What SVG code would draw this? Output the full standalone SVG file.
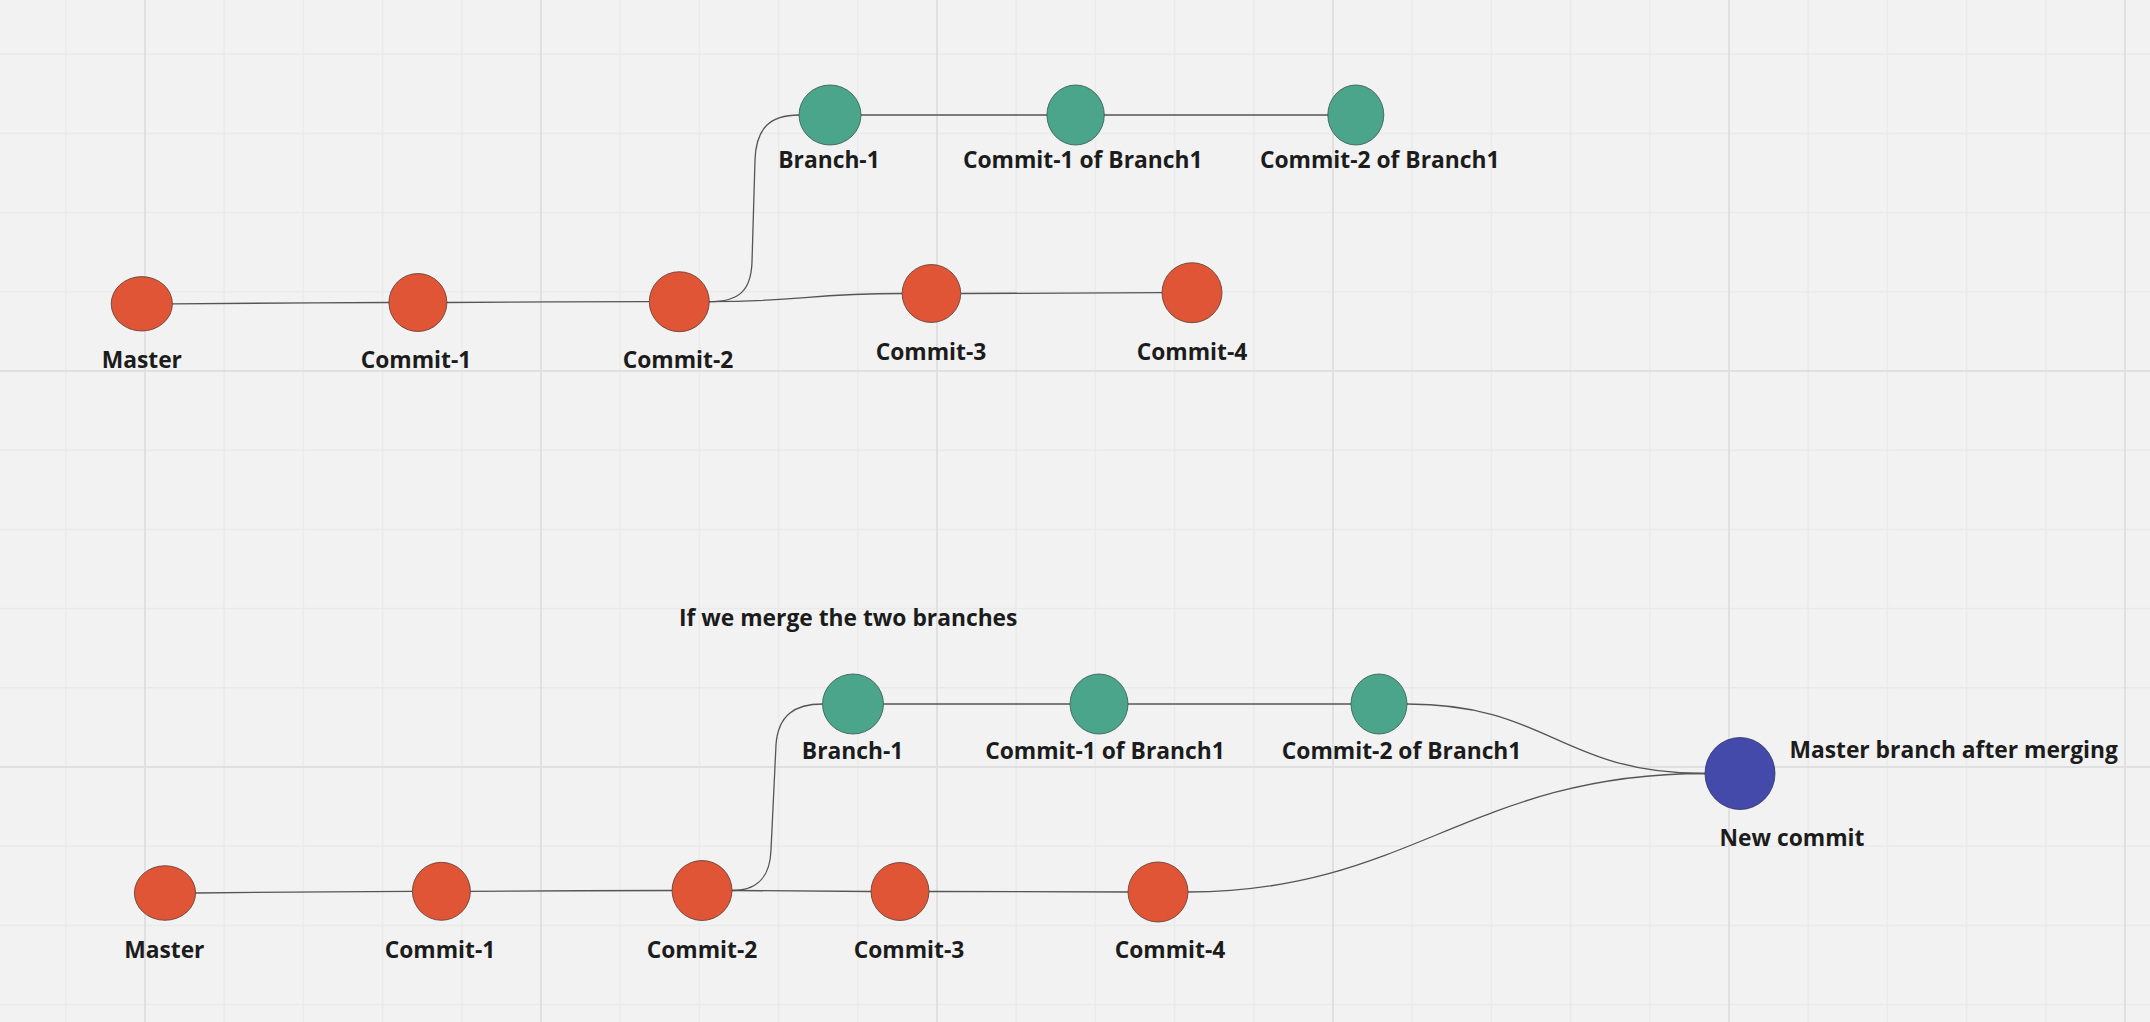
<svg xmlns="http://www.w3.org/2000/svg" width="2150" height="1022" viewBox="0 0 2150 1022">
<defs>
<style>
.minor{stroke:#eaeaea;stroke-width:1.5}
.major{stroke:#e0e0e0;stroke-width:2}
.red{fill:#e05536;stroke:#5a3a32;stroke-width:0.8}
.green{fill:#4ba58a;stroke:#35594d;stroke-width:0.8}
.blue{fill:#434aa9;stroke:#2e3166;stroke-width:0.8}
.lbl{font-family:"Open Sans","Noto Sans","DejaVu Sans",sans-serif;font-weight:700;font-size:22.8px;fill:#1c1c1c;text-anchor:middle}
.lft{text-anchor:start}
.conn path{fill:none;stroke:#555555;stroke-width:1.3}
</style>
</defs>
<rect width="2150" height="1022" fill="#f2f2f2"/>
<g id="grid">
<g class="minor">
<line x1="65.8" y1="0" x2="65.8" y2="1022"/><line x1="224.2" y1="0" x2="224.2" y2="1022"/><line x1="303.4" y1="0" x2="303.4" y2="1022"/><line x1="382.6" y1="0" x2="382.6" y2="1022"/><line x1="461.8" y1="0" x2="461.8" y2="1022"/>
<line x1="620.2" y1="0" x2="620.2" y2="1022"/><line x1="699.4" y1="0" x2="699.4" y2="1022"/><line x1="778.6" y1="0" x2="778.6" y2="1022"/><line x1="857.8" y1="0" x2="857.8" y2="1022"/>
<line x1="1016.2" y1="0" x2="1016.2" y2="1022"/><line x1="1095.4" y1="0" x2="1095.4" y2="1022"/><line x1="1174.6" y1="0" x2="1174.6" y2="1022"/><line x1="1253.8" y1="0" x2="1253.8" y2="1022"/>
<line x1="1412.2" y1="0" x2="1412.2" y2="1022"/><line x1="1491.4" y1="0" x2="1491.4" y2="1022"/><line x1="1570.6" y1="0" x2="1570.6" y2="1022"/><line x1="1649.8" y1="0" x2="1649.8" y2="1022"/>
<line x1="1808.2" y1="0" x2="1808.2" y2="1022"/><line x1="1887.4" y1="0" x2="1887.4" y2="1022"/><line x1="1966.6" y1="0" x2="1966.6" y2="1022"/><line x1="2045.8" y1="0" x2="2045.8" y2="1022"/>
<line x1="0" y1="54.2" x2="2150" y2="54.2"/><line x1="0" y1="133.4" x2="2150" y2="133.4"/><line x1="0" y1="212.6" x2="2150" y2="212.6"/><line x1="0" y1="291.8" x2="2150" y2="291.8"/>
<line x1="0" y1="450.2" x2="2150" y2="450.2"/><line x1="0" y1="529.4" x2="2150" y2="529.4"/><line x1="0" y1="608.6" x2="2150" y2="608.6"/><line x1="0" y1="687.8" x2="2150" y2="687.8"/>
<line x1="0" y1="846.2" x2="2150" y2="846.2"/><line x1="0" y1="925.4" x2="2150" y2="925.4"/><line x1="0" y1="1004.6" x2="2150" y2="1004.6"/>
</g>
<g class="major">
<line x1="145" y1="0" x2="145" y2="1022"/><line x1="541" y1="0" x2="541" y2="1022"/><line x1="937" y1="0" x2="937" y2="1022"/><line x1="1333" y1="0" x2="1333" y2="1022"/><line x1="1729" y1="0" x2="1729" y2="1022"/><line x1="2125" y1="0" x2="2125" y2="1022"/>
<line x1="0" y1="371" x2="2150" y2="371"/><line x1="0" y1="767" x2="2150" y2="767"/>
</g>
</g>
<g id="connectors" class="conn">
<path d="M172,303.8 C280,303.5 310,302.5 389,302.5"/>
<path d="M447,302.5 C540,302 560,301.7 649,301.7"/>
<path d="M709,301.7 C740,301.7 751,290 752,262 L755,160 C756,128 770,115 799,115"/>
<path d="M709,301.7 C805,301.7 805,293.5 902,293.5"/>
<path d="M961,293.5 L1162,292.7"/>
<path d="M861,115 L1047,115"/>
<path d="M1104,115 L1328,115"/>
<path d="M195.6,893 C300,892.5 330,891.3 412.4,891.3"/>
<path d="M470.4,891.3 C560,891 590,890.5 672,890.5"/>
<path d="M732,890.5 C755,890.5 770,880 771,850 L776,745 C778,715 795,704 822.5,704"/>
<path d="M732,890.5 L871,891.5"/>
<path d="M929,891.5 L1128,892"/>
<path d="M883.5,704 L1070,704"/>
<path d="M1128,704 L1351,704"/>
<path d="M1407,704 C1550,704 1560,773.5 1705,773.5"/>
<path d="M1188,892 C1410,892 1470,773.5 1705,773.5"/>
</g>
<g id="top-master"><ellipse class="red" cx="141.8" cy="303.8" rx="30.6" ry="27.2"/><text class="lbl" x="141.8" y="368">Master</text></g>
<g id="top-commit1"><ellipse class="red" cx="417.9" cy="302.5" rx="29" ry="29"/><text class="lbl" x="416" y="368">Commit-1</text></g>
<g id="top-commit2"><ellipse class="red" cx="679.3" cy="301.7" rx="30" ry="30"/><text class="lbl" x="678" y="368">Commit-2</text></g>
<g id="top-branch1"><ellipse class="green" cx="830" cy="115" rx="31" ry="30"/><text class="lbl" x="829" y="168">Branch-1</text></g>
<g id="top-c1b1"><ellipse class="green" cx="1075.6" cy="115" rx="28.7" ry="30"/><text class="lbl" x="1082.7" y="168">Commit-1 of Branch1</text></g>
<g id="top-c2b1"><ellipse class="green" cx="1355.8" cy="115" rx="28" ry="30"/><text class="lbl" x="1379.7" y="168">Commit-2 of Branch1</text></g>
<g id="top-commit3"><ellipse class="red" cx="931.4" cy="293.5" rx="29.3" ry="29"/><text class="lbl" x="931" y="360">Commit-3</text></g>
<g id="top-commit4"><ellipse class="red" cx="1192" cy="292.7" rx="30" ry="30"/><text class="lbl" x="1192" y="360">Commit-4</text></g>
<g id="caption"><text class="lbl lft" x="679" y="626">If we merge the two branches</text></g>
<g id="bot-master"><ellipse class="red" cx="165" cy="893" rx="30.6" ry="27.3"/><text class="lbl" x="164.3" y="957.7">Master</text></g>
<g id="bot-commit1"><ellipse class="red" cx="441.4" cy="891.3" rx="29" ry="29"/><text class="lbl" x="440" y="957.7">Commit-1</text></g>
<g id="bot-commit2"><ellipse class="red" cx="702" cy="890.5" rx="30" ry="30"/><text class="lbl" x="702" y="957.7">Commit-2</text></g>
<g id="bot-branch1"><ellipse class="green" cx="853" cy="704" rx="30.5" ry="30"/><text class="lbl" x="852.6" y="759">Branch-1</text></g>
<g id="bot-c1b1"><ellipse class="green" cx="1099" cy="704" rx="29" ry="30"/><text class="lbl" x="1105" y="759">Commit-1 of Branch1</text></g>
<g id="bot-c2b1"><ellipse class="green" cx="1379" cy="704" rx="28" ry="30"/><text class="lbl" x="1401.6" y="759">Commit-2 of Branch1</text></g>
<g id="bot-commit3"><ellipse class="red" cx="900" cy="891.5" rx="29" ry="29"/><text class="lbl" x="909" y="957.7">Commit-3</text></g>
<g id="bot-commit4"><ellipse class="red" cx="1158" cy="892" rx="30" ry="30"/><text class="lbl" x="1170" y="957.7">Commit-4</text></g>
<g id="new-commit"><ellipse class="blue" cx="1740" cy="773.5" rx="35" ry="36"/><text class="lbl lft" x="1789.4" y="758.3">Master branch after merging</text><text class="lbl" x="1792" y="846">New commit</text></g>
</svg>
